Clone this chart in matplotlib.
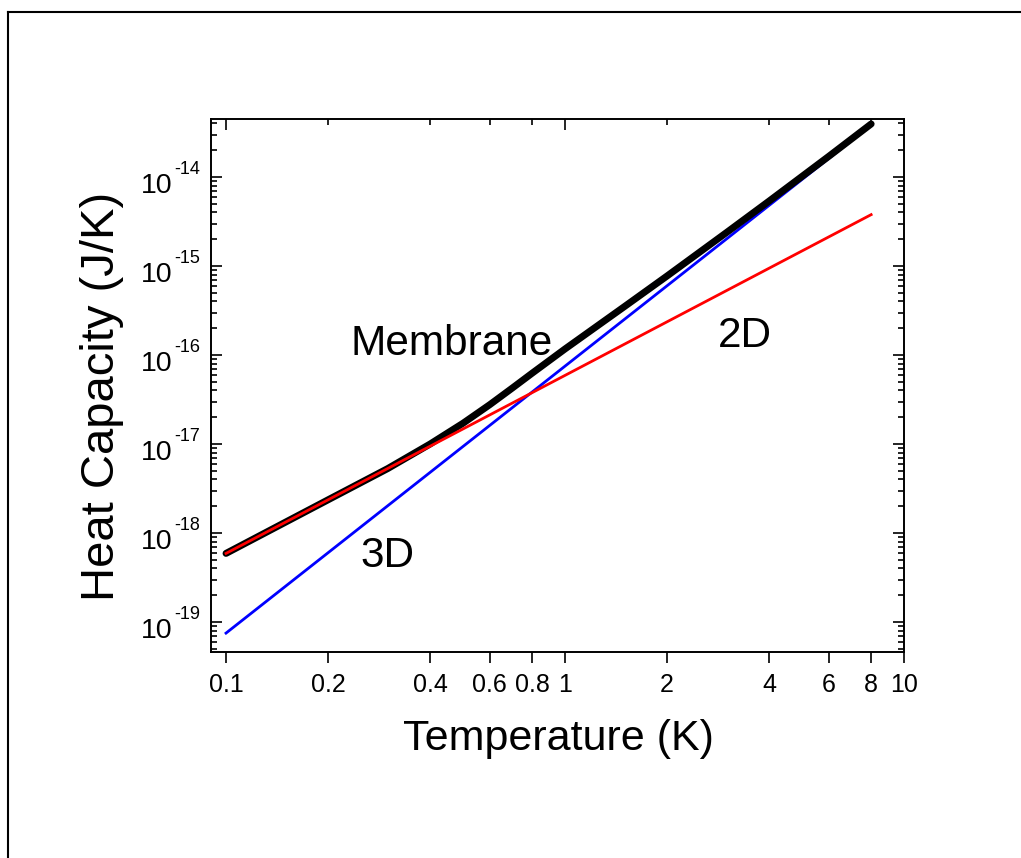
import numpy as np
import matplotlib
matplotlib.use('Agg')
import matplotlib.pyplot as plt
from matplotlib.lines import Line2D
from matplotlib.ticker import FixedLocator, LogLocator, NullFormatter, NullLocator

plt.rcParams['font.family'] = ['Liberation Sans', 'DejaVu Sans']

# values
temp_membrane = [0.1, 0.2, 0.3, 0.4, 0.5, 0.6, 0.7, 0.8, 1.0, 1.5, 2.0, 3.0, 4.0, 6.0, 8.0]
heat_membrane = [5.9e-19, 2.36e-18, 5.3e-18, 1.0e-17, 1.71e-17, 2.77e-17, 4.27e-17, 6.25e-17,
                 1.17e-16, 3.52e-16, 7.73e-16, 2.39e-15, 5.37e-15, 1.71e-14, 3.95e-14]
temp_2d = [0.1, 8.0]
heat_2d = [5.9e-19, 3.78e-15]
temp_3d = [0.1, 8.0]
heat_3d = [7.5e-20, 3.84e-14]

x_ticks = [0.1, 0.2, 0.4, 0.6, 0.8, 1, 2, 4, 6, 8, 10]
x_tick_labels = ['0.1', '0.2', '0.4', '0.6', '0.8', '1', '2', '4', '6', '8', '10']
x_top_major = [0.1, 1, 10]
x_top_minor = [0.2, 0.4, 0.6, 0.8, 2, 4, 6, 8]
y_decades = [-19, -18, -17, -16, -15, -14]

fig = plt.figure(figsize=(10.21, 8.58), dpi=100)
ax = fig.add_axes([211 / 1021, 1 - 652 / 858, 693 / 1021, 533 / 858])

ax.plot(temp_3d, heat_3d, color='#0000ff', lw=2.0)
ax.plot(temp_membrane, heat_membrane, color='black', lw=5, solid_capstyle='round',
        solid_joinstyle='round')
ax.plot(temp_2d, heat_2d, color='#ff0000', lw=2.0)

ax.set_xscale('log')
ax.set_yscale('log')
ax.set_xlim(0.0903, 10)
ax.set_ylim(4.6e-20, 4.49e-14)

# bottom x axis: outward ticks with labels
ax.xaxis.set_major_locator(FixedLocator(x_ticks))
ax.xaxis.set_minor_locator(NullLocator())
ax.set_xticklabels(x_tick_labels, fontsize=18)
ax.tick_params(axis='x', which='major', direction='out', length=8, width=1.2, pad=7, top=False)

# top x axis: inward ticks, no labels
ax_top = ax.twiny()
ax_top.set_xscale('log')
ax_top.set_xlim(ax.get_xlim())
ax_top.xaxis.set_major_locator(FixedLocator(x_top_major))
ax_top.xaxis.set_minor_locator(FixedLocator(x_top_minor))
ax_top.xaxis.set_major_formatter(NullFormatter())
ax_top.xaxis.set_minor_formatter(NullFormatter())
ax_top.tick_params(axis='x', which='major', direction='in', length=8, width=1.2)
ax_top.tick_params(axis='x', which='minor', direction='in', length=4.3, width=1.2)

# y axis: inward ticks both sides
ax.yaxis.set_major_locator(LogLocator(base=10, numticks=20))
ax.yaxis.set_minor_locator(LogLocator(base=10, subs=np.arange(2, 10), numticks=20))
ax.yaxis.set_major_formatter(NullFormatter())
ax.yaxis.set_minor_formatter(NullFormatter())
ax.tick_params(axis='y', which='major', direction='in', length=8, width=1.2, left=True, right=True)
ax.tick_params(axis='y', which='minor', direction='in', length=4.3, width=1.2, left=True, right=True)

for sp in list(ax.spines.values()) + list(ax_top.spines.values()):
    sp.set_linewidth(1.2)

# y tick labels as 10 with a small superscript exponent
for d in y_decades:
    ax.annotate('10', xy=(0, 10.0 ** d), xycoords=('axes fraction', 'data'),
                xytext=(-39, -16), textcoords='offset pixels',
                ha='right', va='baseline', fontsize=20.5)
    ax.annotate('-%d' % abs(d), xy=(0, 10.0 ** d), xycoords=('axes fraction', 'data'),
                xytext=(-37, 3), textcoords='offset pixels',
                ha='left', va='baseline', fontsize=13)

ax.text(0.3478, 0.557, 'Membrane', transform=ax.transAxes, ha='center', va='baseline', fontsize=30.5)
ax.text(0.7706, 0.572, '2D', transform=ax.transAxes, ha='center', va='baseline', fontsize=30.5)
ax.text(0.2547, 0.1595, '3D', transform=ax.transAxes, ha='center', va='baseline', fontsize=30.5)

fig.text(558 / 1021, 1 - 750 / 858, 'Temperature (K)', ha='center', va='baseline', fontsize=31)
fig.text(102 / 1021, 1 - 396 / 858, 'Heat Capacity (J/K)', ha='center', va='center',
         rotation=90, fontsize=34)

# outer frame (left and top edges visible)
fig.add_artist(Line2D([8 / 1021, 8 / 1021], [0, 1 - 12 / 858], transform=fig.transFigure,
                      color='black', lw=1.5))
fig.add_artist(Line2D([8 / 1021, 1], [1 - 12 / 858, 1 - 12 / 858], transform=fig.transFigure,
                      color='black', lw=1.5))

fig.savefig('out.png', dpi=100)
